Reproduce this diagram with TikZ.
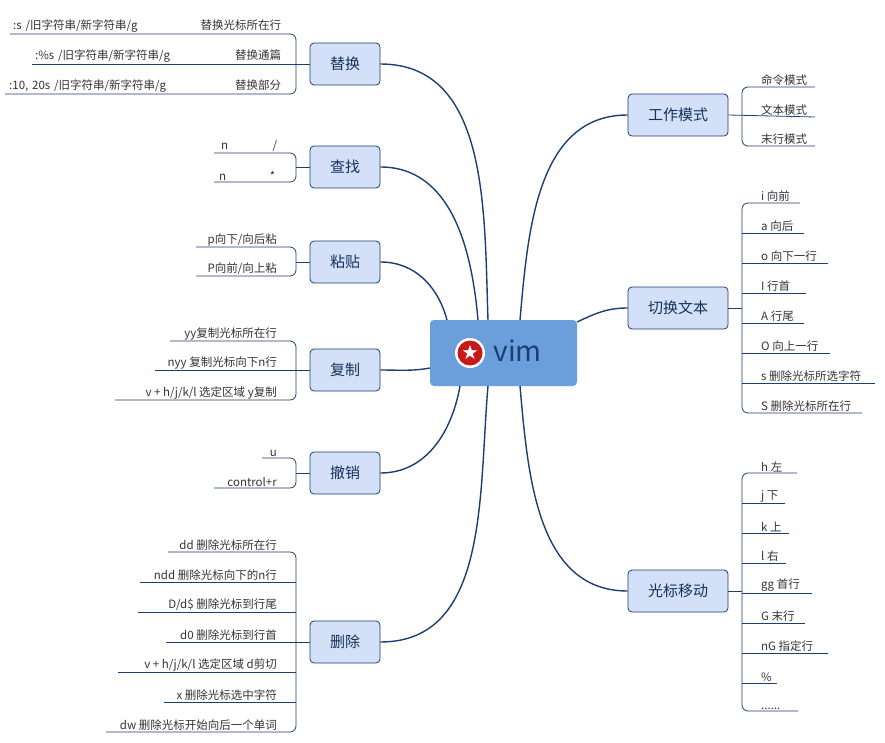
\documentclass[tikz,border=0pt]{standalone}
\usepackage{fontspec}
\setmainfont{Noto Sans CJK SC}
\usetikzlibrary{positioning}
\definecolor{lineblue}{HTML}{1B3F72}
\definecolor{nodefill}{HTML}{D3E0F8}
\definecolor{rootfill}{HTML}{6A9FDC}
\definecolor{leaftext}{HTML}{333333}
\tikzset{
  branch/.style={draw=lineblue,fill=nodefill,rounded corners=4pt,minimum width=70pt,minimum height=42pt,font=\fontsize{15}{15}\selectfont,text=lineblue!80!black,line width=0.8pt},
  link/.style={draw=lineblue,line width=1.4pt},
  under/.style={draw=lineblue,line width=0.8pt},
  leaf/.style={inner sep=1pt,anchor=south west,font=\fontsize{11.5}{12}\selectfont,text=leaftext}
}
\begin{document}
\begin{tikzpicture}[x=1pt,y=-1pt]
\useasboundingbox (0,0) rectangle (885,743);

\node [fill=rootfill,rounded corners=4pt,minimum width=147pt,minimum height=66pt] (vim) at (503.5,353) {};
\node [font=\fontsize{28}{28}\selectfont,text=lineblue,anchor=west] (vimtext) at (490,351) {vim};
\fill [white] (470,353) circle (15);
\fill [red!75!black!90] (470,353) circle (12.5);
\node [text=white,font=\fontsize{16}{16}\selectfont,inner sep=0pt] (star) at (470,352) {★};

\node [branch] (rep) at (345,64) {替换};
\node [branch] (find) at (345,167) {查找};
\node [branch] (paste) at (345,262) {粘贴};
\node [branch] (copy) at (345,370) {复制};
\node [branch] (undo) at (345,473) {撤销};
\node [branch] (del) at (345,642) {删除};
\node [branch,minimum width=100pt] (mode) at (678,115) {工作模式};
\node [branch,minimum width=100pt] (switch) at (678,308) {切换文本};
\node [branch,minimum width=100pt] (move) at (678,591) {光标移动};

\draw [link] (488,320) to [out=92,in=0] (rep.east);
\draw [link] (478,320) to [out=95,in=0] (find.east);
\draw [link] (447,320) to [out=105,in=0] (paste.east);
\draw [link] (430,368) to [out=190,in=0] (copy.east);
\draw [link] (460,386) to [out=-100,in=0] (undo.east);
\draw [link] (488,386) to [out=-95,in=0] (del.east);
\draw [link] (520,320) to [out=85,in=180] (mode.west);
\draw [link] (577,322) to [out=25,in=180] (switch.west);
\draw [link] (520,386) to [out=-85,in=180] (move.west);

% left side
\draw [under,rounded corners=6pt] (10,34) -- (296,34) -- (296,94) -- (5,94);
\draw [under] (32,64) -- (rep.west);
\node [leaf,text width=268pt] (rep1) at (12,34) {:s /旧字符串/新字符串/g\hfill 替换光标所在行};
\node [leaf,text width=246pt] (rep2) at (34,64) {:\%s /旧字符串/新字符串/g\hfill 替换通篇};
\node [leaf,text width=272pt] (rep3) at (8,94) {:10, 20s /旧字符串/新字符串/g\hfill 替换部分};

\draw [under,rounded corners=6pt] (214,153) -- (296,153) -- (296,182) -- (214,182);
\draw [under] (296,167) -- (find.west);
\node [leaf,text width=56pt] (find1) at (220,153) {n\hfill /};
\node [leaf,text width=56pt] (find2) at (218,182) {n\hfill *};

\draw [under,rounded corners=6pt] (196,247) -- (296,247) -- (296,276) -- (196,276);
\draw [under] (296,262) -- (paste.west);
\node [leaf,anchor=south east] (paste1) at (278,247) {p向下/向后粘};
\node [leaf,anchor=south east] (paste2) at (278,276) {P向前/向上粘};

\draw [under,rounded corners=6pt] (170,341) -- (296,341) -- (296,400) -- (115,400);
\draw [under] (155,370) -- (copy.west);
\node [leaf,anchor=south east] (copy1) at (278,341) {yy复制光标所在行};
\node [leaf,anchor=south east] (copy2) at (278,370) {nyy 复制光标向下n行};
\node [leaf,anchor=south east] (copy3) at (278,400) {v + h/j/k/l 选定区域 y复制};

\draw [under,rounded corners=6pt] (262,458) -- (296,458) -- (296,488) -- (214,488);
\draw [under] (296,473) -- (undo.west);
\node [leaf,anchor=south east] (undo1) at (278,458) {u};
\node [leaf,anchor=south east] (undo2) at (278,488) {control+r};

\draw [under,rounded corners=6pt] (168,552) -- (296,552) -- (296,732) -- (106,732);
\draw [under] (166,642) -- (del.west);
\foreach \y/\x in {582/140,612/138,672/118,702/164} \draw [under] (\x,\y) -- (296,\y);
\foreach \y/\t [count=\i] in {552/{dd 删除光标所在行},582/{ndd 删除光标向下的n行},612/{D/d\$ 删除光标到行尾},642/{d0 删除光标到行首},672/{v + h/j/k/l 选定区域 d剪切},702/{x 删除光标选中字符},732/{dw 删除光标开始向后一个单词}}
  \node [leaf,anchor=south east] (del\i) at (278,\y) {\t};

% right side
\draw [under,rounded corners=6pt] (815,87) -- (742,87) -- (742,146) -- (815,146);
\draw [under] (mode.east) -- (815,117);
\foreach \y/\t [count=\i] in {87/命令模式,117/文本模式,146/末行模式}
  \node [leaf] (mode\i) at (760,\y) {\t};

\draw [under,rounded corners=6pt] (800,203) -- (742,203) -- (742,413) -- (862,413);
\draw [under] (switch.east) -- (742,308);
\foreach \y/\x in {233/804,263/828,293/806,323/804,353/830,383/875} \draw [under] (742,\y) -- (\x,\y);
\foreach \y/\t [count=\i] in {203/{i 向前},233/{a 向后},263/{o 向下一行},293/{I 行首},323/{A 行尾},353/{O 向上一行},383/{s 删除光标所选字符},413/{S 删除光标所在行}}
  \node [leaf] (sw\i) at (760,\y) {\t};

\draw [under,rounded corners=6pt] (797,473) -- (742,473) -- (742,711) -- (798,711);
\draw [under] (move.east) -- (742,591);
\foreach \y/\x in {503/785,533/789,563/786,593/812,623/805,653/828,683/777} \draw [under] (742,\y) -- (\x,\y);
\foreach \y/\t [count=\i] in {473/{h 左},503/{j 下},533/{k 上},563/{l 右},593/{gg 首行},623/{G 末行},653/{nG 指定行},683/{\%},711/{{......}}}
  \node [leaf] (mv\i) at (760,\y) {\t};
\end{tikzpicture}
\end{document}
